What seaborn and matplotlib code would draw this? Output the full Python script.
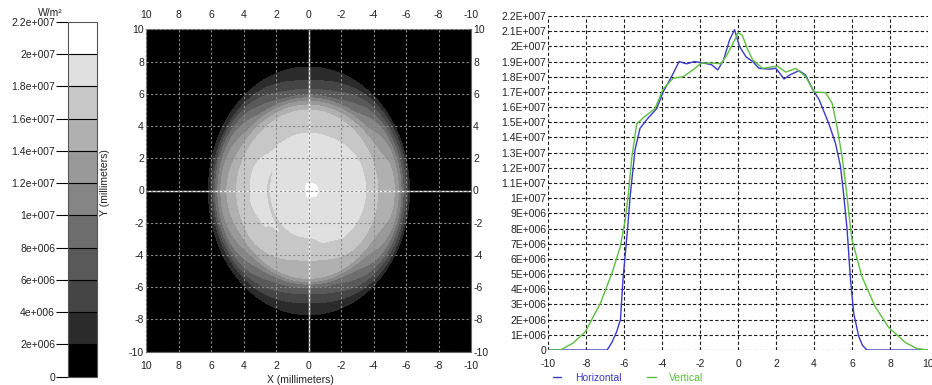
import numpy as np
import pandas as pd
import matplotlib
matplotlib.use("Agg")
import matplotlib.pyplot as plt
from matplotlib.lines import Line2D
import seaborn as sns

# ---------------- data (intensity in units of 1e6 W/m^2) ----------------
UNIT = 1e6
H_X = [-10, -6.9, -6.65, -6.4, -6.2, -6.07, -5.83, -5.69, -5.43, -5.17,
       -4.73, -4.29, -3.95, -3.51, -3.11, -2.72, -2.29, -1.85, -1.41, -1.07,
       -0.77, -0.46, -0.19, 0.07, 0.42, 0.77, 1.1, 1.64, 1.99, 2.42,
       2.69, 3.21, 3.56, 3.91, 4.26, 4.78, 5.13, 5.39, 5.57, 5.74,
       5.92, 6.09, 6.35, 6.55, 6.79, 10]
H_V = [0, 0, 0.5, 1.2, 2.0, 4.6, 7.9, 10.1, 13.2, 14.6,
       15.3, 15.9, 17.0, 18.0, 19.0, 18.85, 19.0, 18.9, 18.8, 18.45,
       19.1, 20.4, 21.1, 20.0, 19.3, 19.0, 18.55, 18.5, 18.55, 17.85,
       18.1, 18.4, 18.1, 17.2, 16.5, 14.9, 13.6, 12.1, 10.1, 7.9,
       4.6, 2.4, 0.9, 0.3, 0, 0]
V_X = [-10, -9.36, -8.7, -8.05, -7.26, -6.65, -6.21, -5.95, -5.78, -5.6,
       -5.34, -4.9, -4.38, -3.95, -3.42, -2.9, -2.38, -1.94, -1.33, -0.89,
       -0.54, -0.19, 0.0, 0.21, 0.5, 0.77, 1.29, 1.81, 2.07, 2.51,
       3.04, 3.56, 4.0, 4.61, 4.95, 5.21, 5.48, 5.74, 5.83, 6.0,
       6.52, 7.22, 7.92, 8.8, 9.4, 10]
V_V = [0, 0, 0.45, 1.2, 3.07, 5.05, 6.8, 8.56, 10.3, 12.7,
       14.9, 15.4, 15.9, 17.2, 17.9, 18.0, 18.45, 18.9, 18.9, 18.85,
       19.55, 20.4, 20.9, 20.75, 19.8, 19.1, 18.55, 18.65, 18.7, 18.3,
       18.55, 18.0, 17.0, 16.95, 16.25, 14.7, 12.7, 10.1, 9.0, 7.25,
       4.83, 2.85, 1.5, 0.5, 0.1, 0]
SERIES = ["Horizontal", "Vertical"]
SERIES_COLORS = ["#3a3acc", "#5cbf3f"]

LEVELS = [0, 2, 4, 6, 8, 10, 12, 14, 16, 18, 20, 22]
LEVEL_GRAYS = [0.0, 0.17, 0.27, 0.35, 0.43, 0.52, 0.60, 0.69, 0.78, 0.88, 1.0]
CBAR_LABELS = ["0", "2e+006", "4e+006", "6e+006", "8e+006", "1e+007",
               "1.2e+007", "1.4e+007", "1.6e+007", "1.8e+007", "2e+007", "2.2e+007"]
PROFILE_TICKS = list(range(0, 23))
PROFILE_LABELS = ["0", "1E+006", "2E+006", "3E+006", "4E+006", "5E+006",
                  "6E+006", "7E+006", "8E+006", "9E+006", "1E+007",
                  "1.1E+007", "1.2E+007", "1.3E+007", "1.4E+007", "1.5E+007",
                  "1.6E+007", "1.7E+007", "1.8E+007", "1.9E+007", "2E+007",
                  "2.1E+007", "2.2E+007"]
MM_TICKS = [-10, -8, -6, -4, -2, 0, 2, 4, 6, 8, 10]

# ---------------- style ----------------
sns.set_style("white")
plt.rcParams['font.family'] = ['Liberation Sans', 'DejaVu Sans']
plt.rcParams['axes.unicode_minus'] = False
FS = 7.5
TXT = "#222222"

W, HH = 932, 385
fig = plt.figure(figsize=(W / 100, HH / 100), dpi=100)


def rect(l, t, r, b):
    return [l / W, 1 - b / HH, (r - l) / W, (b - t) / HH]


ax_img = fig.add_axes(rect(146, 29.3, 471, 351.7))
cax = fig.add_axes(rect(68.3, 21.7, 96.7, 376.7))
ax_prof = fig.add_axes(rect(548.3, 16, 928, 350))


# ---------------- 2D irradiance map built from the two profiles ----------------
def edge(xs, vs, thr, side):
    """outermost position on one side where the profile crosses thr"""
    xs = np.asarray(xs, float)
    vs = np.asarray(vs, float)
    if side < 0:
        xs, vs = -xs[::-1], vs[::-1]
    idx = np.where(vs >= thr)[0][-1]
    x0, x1, v0, v1 = xs[idx], xs[idx + 1], vs[idx], vs[idx + 1]
    return x0 + (v0 - thr) / (v0 - v1) * (x1 - x0)


thr = LEVELS[1]
aP, aN = edge(H_X, H_V, thr, 1), edge(H_X, H_V, thr, -1)
bP, bN = edge(V_X, V_V, thr, 1), edge(V_X, V_V, thr, -1)

g = np.linspace(-10, 10, 501)
X, Y = np.meshgrid(g, g)
A = np.where(X >= 0, aP, aN)
B = np.where(Y >= 0, bP, bN)
U, Vn = X / A, Y / B
RHO = np.hypot(U, Vn)
S2 = U ** 2 + Vn ** 2
Wt = np.where(S2 > 0, U ** 2 / np.maximum(S2, 1e-12), 0.5)
F = (Wt * np.interp(np.sign(X) * RHO * A, H_X, H_V)
     + (1 - Wt) * np.interp(np.sign(Y) * RHO * B, V_X, V_V)) * UNIT

lev = np.array(LEVELS) * UNIT
cf = ax_img.contourf(X, Y, F, levels=lev,
                     colors=[(v, v, v) for v in LEVEL_GRAYS], zorder=1)
ax_img.set_facecolor("black")
ax_img.axhline(0, color="white", lw=1.0, zorder=2)
ax_img.axvline(0, color="white", lw=1.0, zorder=2)
ax_img.set_xlim(10, -10)
ax_img.set_ylim(-10, 10)
ax_img.set_xticks(MM_TICKS)
ax_img.set_yticks(MM_TICKS)
ax_img.set_axisbelow(False)
ax_img.grid(True, color="#8c8c8c", linestyle=(0, (2, 2)), linewidth=0.8)
ax_img.tick_params(axis="both", length=0, labelsize=FS, colors=TXT,
                   top=True, labeltop=True, right=True, labelright=True)
ax_img.tick_params(axis="x", pad=6.5)
ax_img.tick_params(axis="y", pad=1.5)
for sp in ax_img.spines.values():
    sp.set_color("#666666")
    sp.set_linewidth(0.8)

fig.text(104.5 / W, 1 - 183 / HH, "Y (millimeters)", rotation=90,
         ha="center", va="center", fontsize=FS, color=TXT)
fig.text(300 / W, 1 - 380 / HH, "X (millimeters)",
         ha="center", va="center", fontsize=FS, color=TXT)

# ---------------- colour bar ----------------
cb = fig.colorbar(cf, cax=cax, ticks=lev, drawedges=True)
cb.ax.set_yticklabels(CBAR_LABELS)
cax.yaxis.set_ticks_position("left")
cax.yaxis.set_label_position("left")
cax.tick_params(length=8.5, width=0.8, color="black", labelsize=FS,
                labelcolor=TXT, pad=1)
cb.outline.set_edgecolor("#555555")
cb.outline.set_linewidth(0.8)
cb.dividers.set_color("black")
cb.dividers.set_linewidth(0.8)
fig.text(50 / W, 1 - 13 / HH, "W/m²", ha="center", va="center",
         fontsize=FS, color=TXT)

# ---------------- profiles ----------------
df = pd.DataFrame({
    "x": H_X + V_X,
    "v": [v * UNIT for v in H_V + V_V],
    "series": [SERIES[0]] * len(H_X) + [SERIES[1]] * len(V_X),
})
sns.lineplot(data=df, x="x", y="v", hue="series",
             palette=dict(zip(SERIES, SERIES_COLORS)), estimator=None,
             sort=False, linewidth=1.0, ax=ax_prof, legend=False)
ax_prof.set_xlim(-10, 10)
ax_prof.set_ylim(0, 22 * UNIT)
ax_prof.set_xticks(MM_TICKS)
ax_prof.set_yticks(np.array(PROFILE_TICKS) * UNIT)
ax_prof.set_yticklabels(PROFILE_LABELS)
ax_prof.set_xlabel("")
ax_prof.set_ylabel("")
ax_prof.grid(True, color="#1a1a1a", linestyle=(0, (3, 2)), linewidth=0.8)
ax_prof.tick_params(axis="both", length=0, labelsize=FS, colors=TXT)
ax_prof.tick_params(axis="x", pad=6.5)
ax_prof.tick_params(axis="y", pad=1.5)
for sp in ax_prof.spines.values():
    sp.set_visible(False)

handles = [Line2D([], [], color=c, lw=1.0) for c in SERIES_COLORS]
leg = fig.legend(handles, SERIES, loc="center left",
                 bbox_to_anchor=(553 / W, 1 - 378 / HH), ncol=2, frameon=False,
                 fontsize=FS, handlelength=0.8, handletextpad=1.3,
                 columnspacing=2.5, borderpad=0, borderaxespad=0)
for t, c in zip(leg.get_texts(), SERIES_COLORS):
    t.set_color(c)

fig.savefig("out.png", dpi=100)
